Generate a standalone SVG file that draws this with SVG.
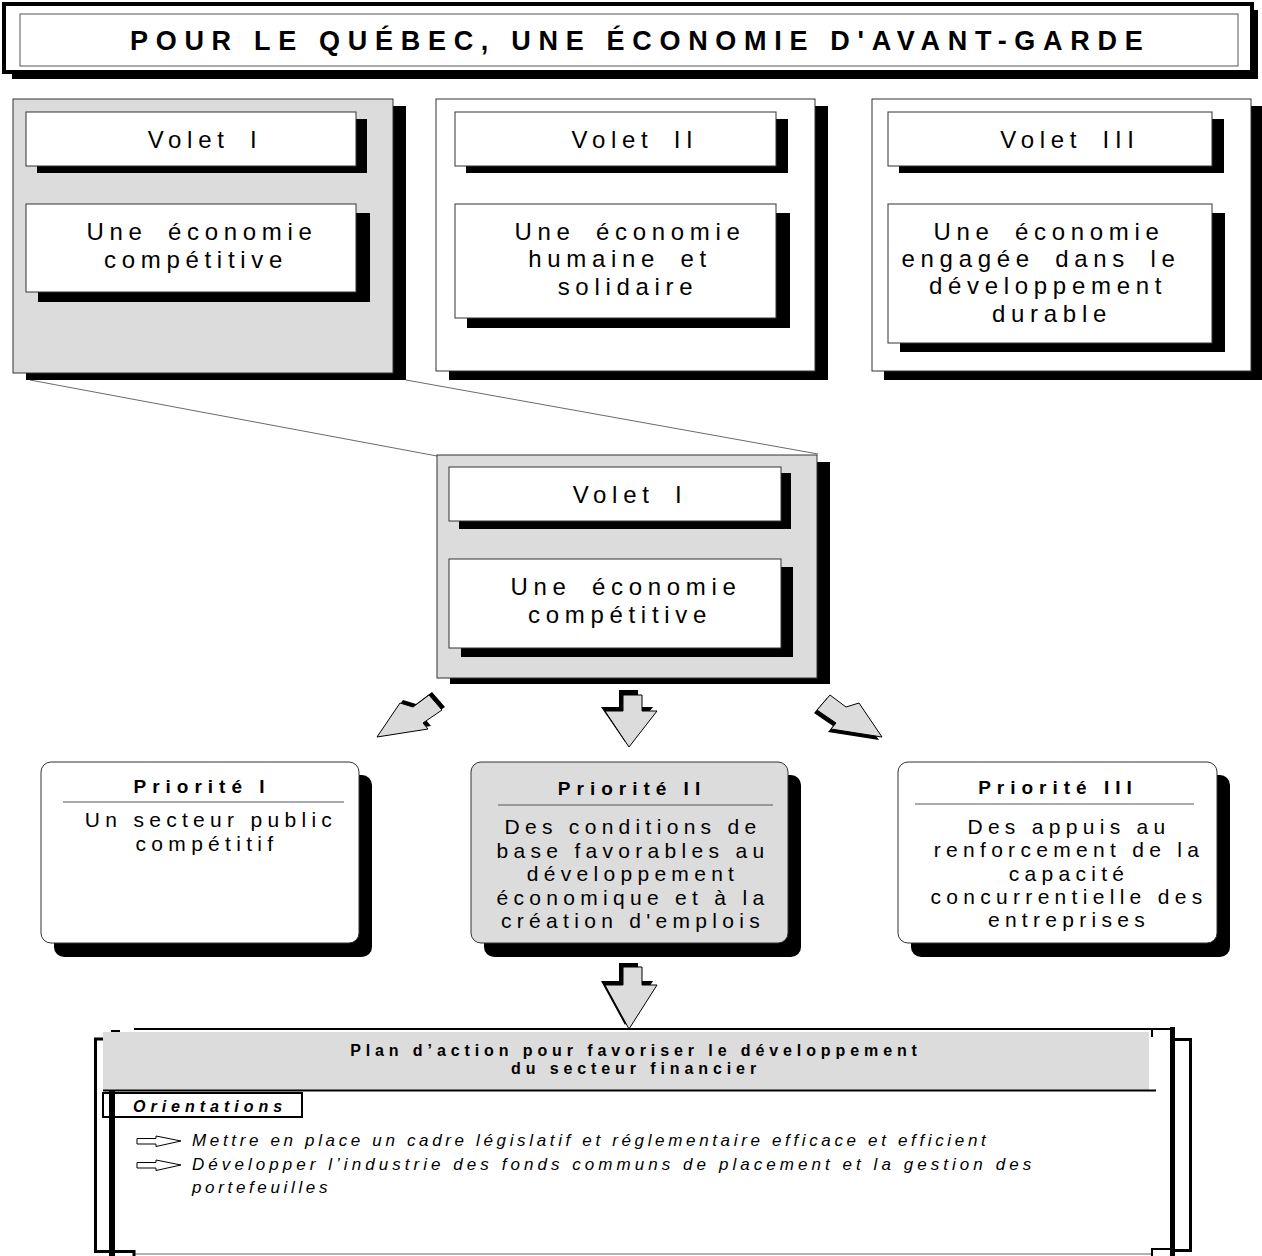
<svg xmlns="http://www.w3.org/2000/svg" width="1262" height="1256" viewBox="0 0 1262 1256">
<style>
text{font-family:"Liberation Sans",Arial,sans-serif;fill:#000}
.t{font-size:24px;letter-spacing:5.7px;word-spacing:8px;text-anchor:middle}
.pt{font-size:19px;font-weight:bold;letter-spacing:6px;text-anchor:middle}
.pb{font-size:21px;letter-spacing:5.3px;text-anchor:middle}
.sh{fill:#000}
.gbox{fill:#dcdcdc;stroke:#333;stroke-width:1}
.wbox{fill:#fff;stroke:#333;stroke-width:1}
.arr{fill:#dcdcdc;stroke:#000;stroke-width:1;stroke-linejoin:miter}
.it{font-size:17px;font-style:italic;letter-spacing:3.65px}
</style>
<rect width="1262" height="1256" fill="#fff"/>

<g id="title">
<rect x="12" y="10" width="1246" height="69" class="sh"/>
<rect x="4" y="4" width="1248" height="68" fill="#fff" stroke="#000" stroke-width="4"/>
<rect x="20" y="14" width="1218" height="52" fill="#fff" stroke="#555" stroke-width="1"/>
<text x="130" y="50" style="font-size:27px;font-weight:bold;letter-spacing:7.7px">POUR LE QUÉBEC, UNE ÉCONOMIE D'AVANT-GARDE</text>
</g>

<g id="connectors">
<line x1="30" y1="380" x2="437" y2="456" stroke="#444" stroke-width="0.8"/>
<line x1="406" y1="380" x2="818" y2="454" stroke="#444" stroke-width="0.8"/>
<g id="arrow-left">
<polygon points="380,734 403,700 416,704 432,692 445,707 426,720 431,726" class="sh"/>
<polygon points="377,737 400,703 413,707 429,695 442,710 423,723 428,729" class="arr"/>
</g>
<g id="arrow-center">
<polygon points="619,690 638,690 638,707 653,707 625,742 601,707 619,707" class="sh"/>
<polygon points="623,695 642,695 642,711 657,711 629,747 605,711 623,711" class="arr"/>
</g>
<g id="arrow-right">
<polygon points="879,740 856,706 843,710 827,698 814,713 833,726 828,732" class="sh"/>
<polygon points="882,737 859,703 846,707 830,695 817,710 836,723 831,729" class="arr"/>
</g>
<g id="arrow-bottom">
<polygon points="619,963 638,963 638,981 653,981 625,1025 601,981 619,981" class="sh"/>
<polygon points="623,967 642,967 642,985 657,985 629,1029 605,985 623,985" class="arr"/>
</g>
</g>

<g id="volet1">
<rect x="26" y="106" width="380" height="274" class="sh"/>
<rect x="13" y="99" width="380" height="274" class="gbox"/>
<rect x="37" y="119" width="330" height="54" class="sh"/>
<rect x="26" y="112" width="330" height="54" class="wbox"/>
<text x="205" y="148" class="t">Volet I</text>
<rect x="38" y="213" width="332" height="89" class="sh"/>
<rect x="26" y="204" width="330" height="88" class="wbox"/>
<text x="202" y="240" class="t">Une économie</text>
<text x="196" y="268" class="t">compétitive</text>
</g>

<g id="volet2">
<rect x="449" y="106" width="379" height="274" class="sh"/>
<rect x="436" y="99" width="379" height="272" class="wbox"/>
<rect x="466" y="119" width="322" height="54" class="sh"/>
<rect x="455" y="112" width="321" height="54" class="wbox"/>
<text x="635" y="148" class="t">Volet II</text>
<rect x="467" y="213" width="323" height="115" class="sh"/>
<rect x="455" y="204" width="321" height="114" class="wbox"/>
<text x="630" y="240" class="t">Une économie</text>
<text x="620" y="267" class="t">humaine et</text>
<text x="628" y="295" class="t">solidaire</text>
</g>

<g id="volet3">
<rect x="884" y="106" width="378" height="274" class="sh"/>
<rect x="872" y="99" width="379" height="272" class="wbox"/>
<rect x="899" y="119" width="325" height="54" class="sh"/>
<rect x="888" y="112" width="324" height="54" class="wbox"/>
<text x="1070" y="148" class="t">Volet III</text>
<rect x="900" y="213" width="325" height="139" class="sh"/>
<rect x="888" y="204" width="324" height="139" class="wbox"/>
<text x="1049" y="240" class="t">Une économie</text>
<text x="1041" y="267" class="t">engagée dans le</text>
<text x="1048" y="294" class="t">développement</text>
<text x="1052" y="322" class="t">durable</text>
</g>

<g id="volet1-detail">
<rect x="450" y="462" width="380" height="222" class="sh"/>
<rect x="437" y="455" width="380" height="223" class="gbox"/>
<rect x="459" y="473" width="332" height="56" class="sh"/>
<rect x="449" y="467" width="332" height="54" class="wbox"/>
<text x="630" y="503" class="t">Volet I</text>
<rect x="461" y="567" width="332" height="90" class="sh"/>
<rect x="449" y="559" width="332" height="89" class="wbox"/>
<text x="626" y="595" class="t">Une économie</text>
<text x="620" y="623" class="t">compétitive</text>
</g>

<g id="priorite1">
<rect x="54" y="775" width="318" height="182" rx="10" class="sh"/>
<rect x="41" y="762" width="318" height="181" rx="10" class="wbox"/>
<text x="202" y="793" class="pt">Priorité I</text>
<line x1="63" y1="802" x2="344" y2="802" stroke="#555" stroke-width="1"/>
<text x="211" y="827" class="pb">Un secteur public</text>
<text x="207" y="851" class="pb">compétitif</text>
</g>

<g id="priorite2">
<rect x="484" y="775" width="317" height="182" rx="10" class="sh"/>
<rect x="471" y="762" width="317" height="181" rx="10" class="gbox"/>
<text x="632" y="795" class="pt">Priorité II</text>
<line x1="498" y1="805" x2="773" y2="805" stroke="#555" stroke-width="1"/>
<text x="633" y="834" class="pb">Des conditions de</text>
<text x="633" y="858" class="pb">base favorables au</text>
<text x="633" y="881" class="pb">développement</text>
<text x="633" y="905" class="pb">économique et à la</text>
<text x="633" y="928" class="pb">création d'emplois</text>
</g>

<g id="priorite3">
<rect x="911" y="775" width="319" height="182" rx="10" class="sh"/>
<rect x="898" y="762" width="319" height="181" rx="10" class="wbox"/>
<text x="1058" y="794" class="pt">Priorité III</text>
<line x1="915" y1="804" x2="1194" y2="804" stroke="#555" stroke-width="1"/>
<text x="1069" y="834" class="pb">Des appuis au</text>
<text x="1069" y="857" class="pb">renforcement de la</text>
<text x="1069" y="881" class="pb">capacité</text>
<text x="1069" y="904" class="pb">concurrentielle des</text>
<text x="1069" y="927" class="pb">entreprises</text>
</g>

<g id="plan">
<line x1="134" y1="1254" x2="1151" y2="1254" stroke="#999" stroke-width="1.5"/>
<rect x="103" y="1032" width="1046" height="58" fill="#dcdcdc"/>
<line x1="134" y1="1029" x2="1151" y2="1029" stroke="#000" stroke-width="2"/>
<line x1="103" y1="1090.5" x2="1156" y2="1090.5" stroke="#000" stroke-width="2"/>
<text x="636" y="1056" style="font-size:16px;font-weight:bold;letter-spacing:4.9px;text-anchor:middle">Plan d’action pour favoriser le développement</text>
<text x="636" y="1074" style="font-size:16px;font-weight:bold;letter-spacing:4.9px;text-anchor:middle">du secteur financier</text>
<path d="M103,1039 H95.5 V1251.5 H134 V1256" fill="none" stroke="#000" stroke-width="3"/>
<line x1="111" y1="1031" x2="120" y2="1031" stroke="#000" stroke-width="2"/>
<rect x="103" y="1093" width="199" height="24" fill="#fff" stroke="#000" stroke-width="2"/>
<text x="133" y="1112" style="font-size:16px;font-weight:bold;font-style:italic;letter-spacing:5px">Orientations</text>
<rect x="109" y="1090" width="6" height="166" fill="#000"/>
<rect x="1170" y="1027" width="5" height="229" fill="#000"/>
<path d="M1172,1039.5 H1190.5 V1250.5 H1172" fill="none" stroke="#000" stroke-width="3"/>
<path d="M1152,1037 V1029 H1172" fill="none" stroke="#000" stroke-width="2"/>
<path d="M1152,1256 V1249 H1172" fill="none" stroke="#000" stroke-width="2"/>
<g id="bullet1">
<polygon points="137,1138.5 156,1138.5 156,1136 181,1141 156,1146.5 156,1144 137,1144" fill="#fff" stroke="#000" stroke-width="1"/>
</g>
<g id="bullet2">
<polygon points="137,1162.5 156,1162.5 156,1160 181,1165 156,1170.5 156,1168 137,1168" fill="#fff" stroke="#000" stroke-width="1"/>
</g>
<text x="192" y="1146" class="it">Mettre en place un cadre législatif et réglementaire efficace et efficient</text>
<text x="192" y="1170" class="it" style="letter-spacing:4.05px">Développer l’industrie des fonds communs de placement et la gestion des</text>
<text x="192" y="1193" class="it">portefeuilles</text>
</g>
</svg>
